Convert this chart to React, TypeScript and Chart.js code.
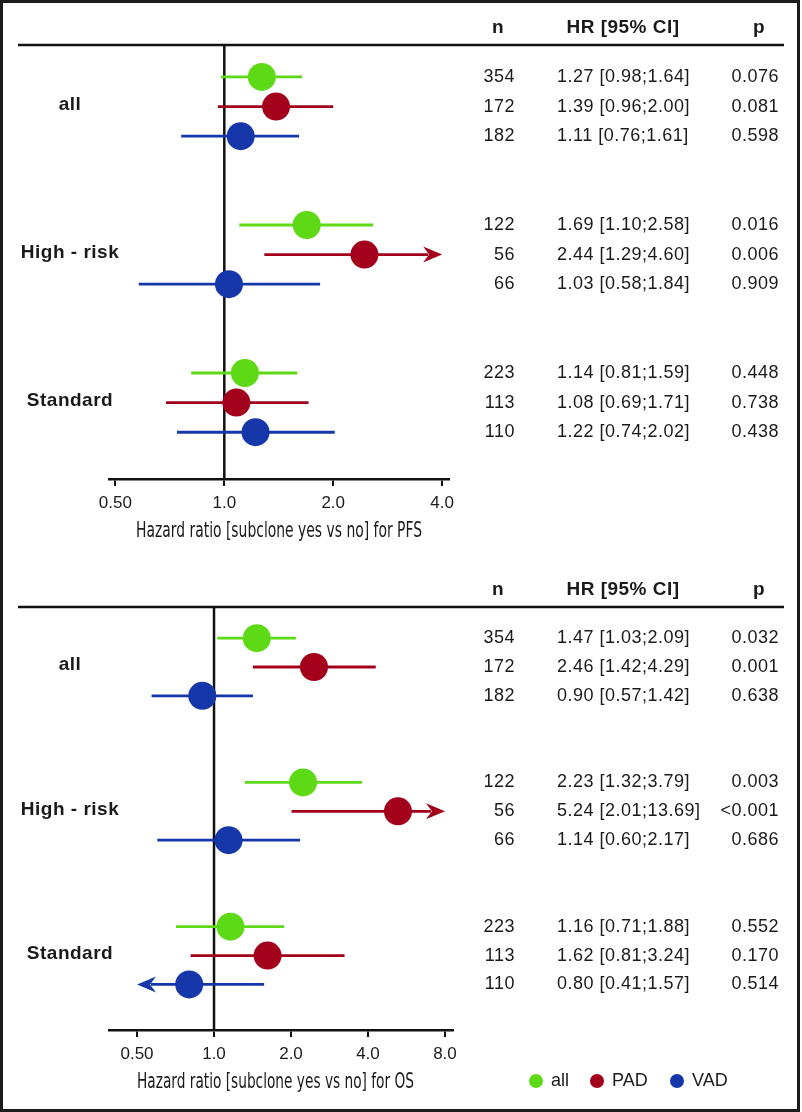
import React, { useEffect, useRef } from 'react';
import { Chart, registerables } from 'chart.js';

Chart.register(...registerables);

// ---------- data ----------
const groups = ['all', 'High - risk', 'Standard'];
const seriesNames = ['all', 'PAD', 'VAD'];
const seriesColors = ['#5ED916', '#A3001C', '#1537AA'];

// rows ordered: group0(all,PAD,VAD), group1(...), group2(...)
const pfsN = [354, 172, 182, 122, 56, 66, 223, 113, 110];
const pfsHR = [1.27, 1.39, 1.11, 1.69, 2.44, 1.03, 1.14, 1.08, 1.22];
const pfsLo = [0.98, 0.96, 0.76, 1.10, 1.29, 0.58, 0.81, 0.69, 0.74];
const pfsHi = [1.64, 2.00, 1.61, 2.58, 4.60, 1.84, 1.59, 1.71, 2.02];
const pfsP = ['0.076', '0.081', '0.598', '0.016', '0.006', '0.909', '0.448', '0.738', '0.438'];
const pfsTicks = [0.5, 1, 2, 4];
const pfsTickLabels = ['0.50', '1.0', '2.0', '4.0'];
const pfsTitle = 'Hazard ratio [subclone yes vs no] for PFS';

const osN = [354, 172, 182, 122, 56, 66, 223, 113, 110];
const osHR = [1.47, 2.46, 0.90, 2.23, 5.24, 1.14, 1.16, 1.62, 0.80];
const osLo = [1.03, 1.42, 0.57, 1.32, 2.01, 0.60, 0.71, 0.81, 0.41];
const osHi = [2.09, 4.29, 1.42, 3.79, 13.69, 2.17, 1.88, 3.24, 1.57];
const osP = ['0.032', '0.001', '0.638', '0.003', '<0.001', '0.686', '0.552', '0.170', '0.514'];
const osTicks = [0.5, 1, 2, 4, 8];
const osTickLabels = ['0.50', '1.0', '2.0', '4.0', '8.0'];
const osTitle = 'Hazard ratio [subclone yes vs no] for OS';

const tableHeaders = ['n', 'HR [95% CI]', 'p'];

// ---------- styling ----------
const FONT = '"Liberation Sans", Arial, Helvetica, sans-serif';
const NARROW = '"Liberation Sans Narrow", "DejaVu Sans Condensed", "Liberation Sans", sans-serif';
const INK = '#1a1a1a';
const W = 802;
const H = 556;

const rowPos = (gi: number, si: number) => gi * 5 + si + 1;

type PanelProps = {
  n: number[]; hr: number[]; lo: number[]; hi: number[]; p: string[];
  ticks: number[]; tickLabels: string[]; title: string;
  xMin: number; xMax: number;
  areaTop: number; areaBottom: number; areaLeft: number; areaRight: number;
  titleX: number; titleW: number; top: number; legend: boolean;
};

function drawArrow(ctx: CanvasRenderingContext2D, tipX: number, y: number, dir: number) {
  ctx.beginPath();
  ctx.moveTo(tipX, y);
  ctx.lineTo(tipX - dir * 19, y - 8);
  ctx.lineTo(tipX - dir * 13, y);
  ctx.lineTo(tipX - dir * 19, y + 8);
  ctx.closePath();
  ctx.fill();
}

function setSpacing(ctx: any, px: number) {
  if ('letterSpacing' in ctx) ctx.letterSpacing = `${px}px`;
}

function Panel(props: PanelProps) {
  const ref = useRef<HTMLCanvasElement | null>(null);
  useEffect(() => {
    const canvas = ref.current;
    if (!canvas) return;
    const { n, hr, lo, hi, p, ticks, tickLabels, title } = props;
    const cMin = ticks[0];
    const cMax = ticks[ticks.length - 1];

    const deco = {
      id: 'deco',
      beforeDatasetsDraw(chart: any) {
        const { ctx, chartArea: a, scales } = chart;
        const x = scales.x, y = scales.y;
        ctx.save();
        ctx.strokeStyle = '#111';
        ctx.lineWidth = 2.5;
        ctx.beginPath();
        ctx.moveTo(18, a.top);
        ctx.lineTo(784, a.top);
        ctx.stroke();
        const x1 = x.getPixelForValue(1);
        ctx.beginPath();
        ctx.moveTo(x1, a.top);
        ctx.lineTo(x1, a.bottom);
        ctx.stroke();
        seriesNames.forEach((_, si) => {
          groups.forEach((__, gi) => {
            const k = gi * 3 + si;
            const yy = y.getPixelForValue(rowPos(gi, si));
            const xl = x.getPixelForValue(Math.max(lo[k], cMin));
            const xh = x.getPixelForValue(Math.min(hi[k], cMax));
            const arrowR = hi[k] > cMax;
            const arrowL = lo[k] < cMin;
            ctx.strokeStyle = seriesColors[si];
            ctx.fillStyle = seriesColors[si];
            ctx.lineWidth = 2.8;
            ctx.beginPath();
            ctx.moveTo(arrowL ? xl + 14 : xl, yy);
            ctx.lineTo(arrowR ? xh - 14 : xh, yy);
            ctx.stroke();
            if (arrowR) drawArrow(ctx, xh, yy, 1);
            if (arrowL) drawArrow(ctx, xl, yy, -1);
          });
        });
        ctx.restore();
      },
      afterDraw(chart: any) {
        const { ctx, chartArea: a, scales } = chart;
        const y = scales.y;
        ctx.save();
        ctx.fillStyle = INK;
        ctx.textBaseline = 'middle';
        // headers
        ctx.font = `bold 19px ${FONT}`;
        setSpacing(ctx, 0.5);
        ctx.textAlign = 'center';
        const hy = a.top - 17;
        ctx.fillText(tableHeaders[0], 498, hy);
        ctx.fillText(tableHeaders[1], 623, hy);
        ctx.fillText(tableHeaders[2], 759, hy);
        // rows
        ctx.font = `18px ${FONT}`;
        setSpacing(ctx, 0.5);
        groups.forEach((_, gi) => {
          seriesNames.forEach((__, si) => {
            const k = gi * 3 + si;
            const yy = y.getPixelForValue(rowPos(gi, si));
            ctx.textAlign = 'right';
            ctx.fillText(String(n[k]), 515, yy);
            ctx.textAlign = 'left';
            ctx.fillText(`${hr[k].toFixed(2)} [${lo[k].toFixed(2)};${hi[k].toFixed(2)}]`, 557, yy);
            ctx.textAlign = 'right';
            ctx.fillText(p[k], 779, yy);
          });
        });
        // group labels
        ctx.font = `bold 19px ${FONT}`;
        setSpacing(ctx, 0.5);
        ctx.textAlign = 'center';
        groups.forEach((g, gi) => {
          ctx.fillText(g, 70, y.getPixelForValue(rowPos(gi, 1)) - 2);
        });
        setSpacing(ctx, 0);
        // axis title (condensed)
        const ty = a.bottom + 51;
        ctx.font = `22px ${NARROW}`;
        const mw = ctx.measureText(title).width;
        const sx = props.titleW / mw;
        ctx.save();
        ctx.translate(props.titleX, ty + 1);
        ctx.scale(sx, 1);
        ctx.textAlign = 'center';
        ctx.fillText(title, 0, 0);
        ctx.restore();
        // legend
        if (props.legend) {
          const lx = [536, 597, 677];
          ctx.font = `18px ${FONT}`;
          ctx.textAlign = 'left';
          seriesNames.forEach((s, si) => {
            ctx.fillStyle = seriesColors[si];
            ctx.beginPath();
            ctx.arc(lx[si], ty, 7, 0, Math.PI * 2);
            ctx.fill();
            ctx.fillStyle = INK;
            ctx.fillText(s, lx[si] + 15, ty);
          });
        }
        ctx.restore();
      },
    };

    const datasets = seriesNames.map((s, si) => ({
      label: s,
      data: groups.map((_, gi) => ({ x: hr[gi * 3 + si], y: rowPos(gi, si) })),
      backgroundColor: seriesColors[si],
      borderColor: seriesColors[si],
      borderWidth: 0,
      pointRadius: 14,
      pointHoverRadius: 14,
      showLine: false,
    }));

    const chart = new Chart(canvas, {
      type: 'scatter',
      data: { datasets },
      options: {
        responsive: false,
        animation: false,
        devicePixelRatio: 1,
        events: [],
        layout: {
          padding: { left: props.areaLeft, right: W - props.areaRight, top: props.areaTop, bottom: 0 },
        },
        plugins: { legend: { display: false }, tooltip: { enabled: false } },
        scales: {
          x: {
            type: 'logarithmic',
            position: 'bottom',
            min: props.xMin,
            max: props.xMax,
            afterBuildTicks: (s: any) => {
              s.ticks = ticks.map((v) => ({ value: v }));
            },
            afterFit: (s: any) => {
              s.height = H - props.areaBottom;
              s.paddingLeft = 0;
              s.paddingRight = 0;
            },
            ticks: {
              autoSkip: false,
              maxRotation: 0,
              minRotation: 0,
              padding: 7,
              color: INK,
              font: { family: FONT, size: 17 },
              callback: (v: any) => {
                const i = ticks.indexOf(Number(v));
                return i >= 0 ? tickLabels[i] : '';
              },
            },
            grid: { drawOnChartArea: false, drawTicks: true, tickLength: 7, color: '#111', lineWidth: 2 },
            border: { display: true, color: '#111', width: 2.5 },
          },
          y: { type: 'linear', min: -0.08, max: 14.58, reverse: true, display: false },
        },
      },
      plugins: [deco],
    } as any);
    return () => chart.destroy();
  }, []);
  return (
    <canvas
      ref={ref}
      width={W}
      height={H}
      style={{ position: 'absolute', left: 0, top: props.top, width: W, height: H }}
    />
  );
}

export default function App() {
  return (
    <div style={{ position: 'absolute', left: 0, top: 0, width: W, height: 1112, background: '#fff' }}>
      <Panel
        n={pfsN} hr={pfsHR} lo={pfsLo} hi={pfsHi} p={pfsP}
        ticks={pfsTicks} tickLabels={pfsTickLabels} title={pfsTitle}
        xMin={0.48} xMax={4.18}
        areaTop={45} areaBottom={479} areaLeft={109} areaRight={449}
        titleX={279} titleW={286} top={0} legend={false}
      />
      <Panel
        n={osN} hr={osHR} lo={osLo} hi={osHi} p={osP}
        ticks={osTicks} tickLabels={osTickLabels} title={osTitle}
        xMin={0.3885} xMax={8.6}
        areaTop={51} areaBottom={474} areaLeft={109} areaRight={453}
        titleX={275.5} titleW={277} top={556} legend={true}
      />
      <div
        style={{
          position: 'absolute', left: 0, top: 0, width: 800, height: 1112,
          border: '3px solid #1c1c1c', boxSizing: 'border-box', pointerEvents: 'none',
        }}
      />
    </div>
  );
}
